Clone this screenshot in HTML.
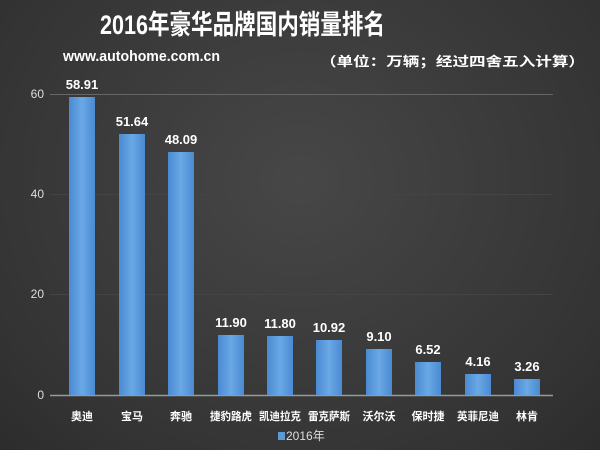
<!DOCTYPE html>
<html><head><meta charset="utf-8"><style>
body{margin:0;width:600px;height:450px;overflow:hidden;background:radial-gradient(ellipse at 50% 40%,#474747,#333 80%,#2c2c2c);font-family:"Liberation Sans","Noto Sans CJK SC",sans-serif;color:#fff}
</style></head><body>
<svg width="600" height="450" xmlns="http://www.w3.org/2000/svg" style="position:absolute;left:0;top:0">
<defs><linearGradient id="b" x1="0" x2="1"><stop offset="0" stop-color="#4a8ad0"/><stop offset="0.5" stop-color="#6aa8e6"/><stop offset="1" stop-color="#4a8ad0"/></linearGradient></defs>
<text x="100" y="34" font-size="27" font-weight="bold" fill="#fff" textLength="285" lengthAdjust="spacingAndGlyphs">2016年豪华品牌国内销量排名</text>
<text x="63" y="61" font-size="15" font-weight="bold" fill="#fff" textLength="157" lengthAdjust="spacingAndGlyphs">www.autohome.com.cn</text>
<text x="320" y="66" font-size="13" font-weight="bold" fill="#fff" textLength="265" lengthAdjust="spacingAndGlyphs">（单位：万辆；经过四舍五入计算）</text>
<g stroke="#666" stroke-width="1"><line x1="50" x2="553" y1="94.5" y2="94.5"/><line x1="50" x2="553" y1="194.5" y2="194.5" stroke="#444"/><line x1="50" x2="553" y1="294.5" y2="294.5" stroke="#444"/></g>
<line x1="50" x2="553" y1="395.5" y2="395.5" stroke="#999" stroke-width="1.5"/>
<g font-size="12" fill="#ddd" text-anchor="end"><text x="44" y="98">60</text><text x="44" y="198">40</text><text x="44" y="298">20</text><text x="44" y="399">0</text></g>
<g fill="url(#b)">
<rect x="69" y="97" width="26" height="298"/>
<rect x="119" y="134" width="26" height="261"/>
<rect x="168" y="152" width="26" height="243"/>
<rect x="218" y="335" width="26" height="60"/>
<rect x="267" y="336" width="26" height="59"/>
<rect x="316" y="340" width="26" height="55"/>
<rect x="366" y="349" width="26" height="46"/>
<rect x="415" y="362" width="26" height="33"/>
<rect x="465" y="374" width="26" height="21"/>
<rect x="514" y="379" width="26" height="16"/>
</g>
<g font-size="13" font-weight="bold" fill="#fff" text-anchor="middle">
<text x="82" y="89">58.91</text><text x="132" y="126">51.64</text><text x="181" y="144">48.09</text>
<text x="231" y="327">11.90</text><text x="280" y="328">11.80</text><text x="329" y="332">10.92</text>
<text x="379" y="341">9.10</text><text x="428" y="354">6.52</text><text x="478" y="366">4.16</text><text x="527" y="371">3.26</text>
</g>
<g font-size="11" font-weight="bold" fill="#fff" text-anchor="middle">
<text x="82" y="420">奥迪</text><text x="132" y="420">宝马</text><text x="181" y="420">奔驰</text><text x="231" y="420" textLength="42" lengthAdjust="spacingAndGlyphs">捷豹路虎</text><text x="280" y="420" textLength="42" lengthAdjust="spacingAndGlyphs">凯迪拉克</text><text x="329" y="420" textLength="42" lengthAdjust="spacingAndGlyphs">雷克萨斯</text><text x="379" y="420">沃尔沃</text><text x="428" y="420">保时捷</text><text x="478" y="420" textLength="42" lengthAdjust="spacingAndGlyphs">英菲尼迪</text><text x="527" y="420">林肯</text>
</g>
<rect x="278" y="432" width="7" height="8" fill="#5b9bd5"/>
<text x="286" y="440" font-size="12" fill="#ddd">2016年</text>
</svg>
</body></html>
